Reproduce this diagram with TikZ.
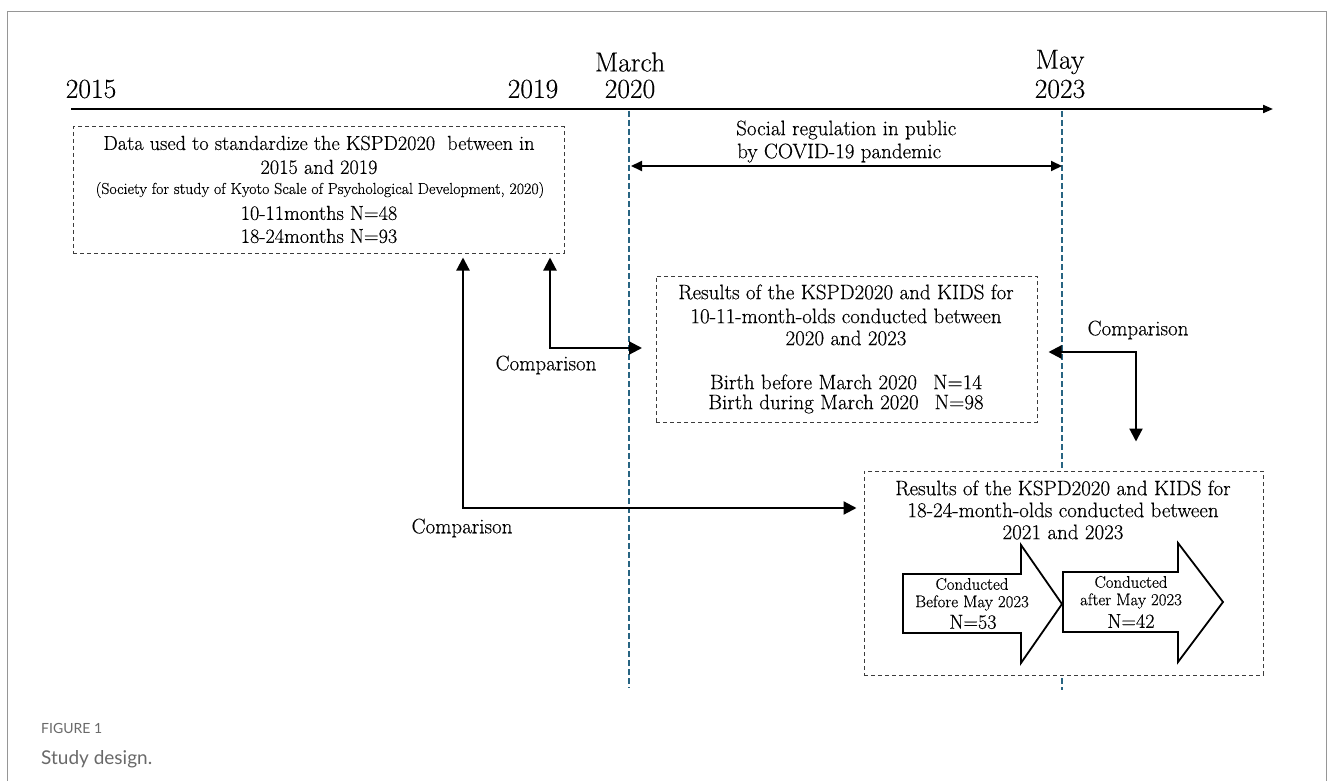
\documentclass[tikz,border=0pt]{standalone}
\usepackage{fontspec}
\setmainfont{Latin Modern Roman}[FakeBold=0.35]
\newfontfamily\capfont{Lato}
\usetikzlibrary{arrows.meta}
\definecolor{dashblue}{RGB}{40,100,130}
\definecolor{boxgray}{RGB}{60,60,60}
\definecolor{capgray}{RGB}{105,105,105}
\definecolor{framegray}{RGB}{150,150,150}
\newcommand\tlfont{\fontsize{27.5}{30}\selectfont}
\newcommand\bxfont{\fontsize{21}{24}\selectfont}
\newcommand\bxofont{\fontsize{20.3}{24}\selectfont}
\newcommand\smfont{\fontsize{15.9}{18}\selectfont}
\newcommand\arfont{\fontsize{16.8}{19}\selectfont}
\newcommand\nfont{\fontsize{20.2}{22}\selectfont}
\tikzset{
  txt/.style={inner sep=0pt, font=\bxfont},
  txto/.style={inner sep=0pt, font=\bxofont},
  tl/.style={inner sep=0pt, font=\tlfont},
  dbox/.style={draw=boxgray, line width=1pt, dash pattern=on 4pt off 3pt, inner sep=0pt},
  vline/.style={draw=dashblue, line width=1.6pt, dash pattern=on 6pt off 3pt},
  biconn/.style={line width=2.2pt, {Triangle[length=13pt,width=13pt]}-{Triangle[length=13pt,width=13pt]}},
  srconn/.style={line width=2pt, {Triangle[length=11pt,width=10pt]}-{Triangle[length=11pt,width=10pt]}},
  timeline/.style={line width=2pt, -{Triangle[length=10pt,width=8pt]}},
  blockarrow/.style={draw=black, line width=1.8pt, fill=white, line join=miter},
}
\begin{document}
\begin{tikzpicture}[x=1pt,y=-1pt]
\useasboundingbox (0,0) rectangle (1331,781);
% frame
\draw[framegray, line width=1pt] (7,781) -- (7,12) -- (1326,12) -- (1326,781);
% timeline
\coordinate (tl0) at (71,109);
\coordinate (tl1) at (1273,109);
\draw[timeline] (tl0) -- (tl1);
\node[tl] (y2015) at (91,89) {2015};
\node[tl] (y2019) at (533,89) {2019};
\node[tl] (march) at (630,62) {March};
\node[tl] (y2020) at (630,89) {2020};
\node[tl] (may) at (1060,62) {May};
\node[tl] (y2023) at (1060,89) {2023};
% vertical dashed lines
\coordinate (v1top) at (629,111);
\coordinate (v1bot) at (629,688);
\coordinate (v2top) at (1062,111);
\coordinate (v2bot) at (1062,690);
\draw[vline] (v1top) -- (v1bot);
\draw[vline] (v2top) -- (v2bot);
% box 1
\node[dbox, minimum width=491pt, minimum height=126pt] (box1) at (318.5,190) {};
\node[txto] (b1l1) at (319,143) {Data used to standardize the KSPD2020\hspace{6pt} between in};
\node[txto] (b1l2) at (319,167) {2015 and 2019};
\node[inner sep=0pt, font=\smfont] (b1l3) at (320,190) {(Society for study of Kyoto Scale of Psychological Development, 2020)};
\node[txto] (b1l4) at (319,213) {10-11months N=48};
\node[txto] (b1l5) at (319,236) {18-24months N=93};
% social regulation
\node[txt, anchor=west] (sr1) at (736,130) {Social regulation in public};
\node[txt, anchor=west] (sr2) at (737,153) {by COVID-19 pandemic};
\coordinate (sra) at (631,166);
\coordinate (srb) at (1062,166);
\draw[srconn] (sra) -- (srb);
% middle box
\node[dbox, minimum width=381pt, minimum height=146pt] (mid) at (846.5,349) {};
\node[txt] (m1) at (846,292) {Results of the KSPD2020 and KIDS for};
\node[txt] (m2) at (846,316) {10-11-month-olds conducted between};
\node[txt] (m3) at (846,338) {2020 and 2023};
\node[txt] (m4) at (846,382) {Birth before March 2020\hspace{16pt}N=14};
\node[txt] (m5) at (846,404) {Birth during March 2020\hspace{16pt}N=98};
% bottom box
\node[dbox, fill=white, minimum width=399pt, minimum height=204pt] (bot) at (1063.5,573) {};
\node[txt] (bt1) at (1063,488) {Results of the KSPD2020 and KIDS for};
\node[txt] (bt2) at (1063,510) {18-24-month-olds conducted between};
\node[txt] (bt3) at (1063,532) {2021 and 2023};
% block arrows
\draw[blockarrow] (903,574) -- (1021,574) -- (1021,545) -- (1062,604) -- (1021,663) -- (1021,633) -- (903,633) -- cycle;
\draw[blockarrow] (1063,572) -- (1178,572) -- (1178,543) -- (1223,602) -- (1178,662) -- (1178,632) -- (1063,632) -- cycle;
\node[inner sep=0pt, font=\arfont] (a1l1) at (972,584) {Conducted};
\node[inner sep=0pt, font=\arfont] (a1l2) at (972,603) {Before May 2023};
\node[inner sep=0pt, font=\nfont] (a1l3) at (973,622) {N=53};
\node[inner sep=0pt, font=\arfont] (a2l1) at (1131,582) {Conducted};
\node[inner sep=0pt, font=\arfont] (a2l2) at (1131,601) {after May 2023};
\node[inner sep=0pt, font=\nfont] (a2l3) at (1131,621) {N=42};
% comparison arrows
\coordinate (ca) at (550,348);
\coordinate (cae) at (642,348);
\draw[biconn, shorten <=4pt] (box1.south -| ca) |- (cae);
\node[txt] (cmpA) at (546,365) {Comparison};
\coordinate (cb) at (463,508);
\draw[biconn, shorten <=4pt, shorten >=7pt] (box1.south -| cb) |- (bot.west |- cb);
\node[txt] (cmpB) at (462,528) {Comparison};
\coordinate (cc) at (1136,352);
\draw[biconn, shorten <=11pt, shorten >=29pt] (mid.east |- cc) -| (bot.north -| cc);
\node[txt] (cmpC) at (1138,330) {Comparison};
% caption
\node[anchor=west, inner sep=0pt, font=\capfont\fontsize{14}{16}\selectfont, text=capgray] (figlab) at (41,728) {FIGURE 1};
\node[anchor=west, inner sep=0pt, font=\capfont\fontsize{19}{22}\selectfont, text=capgray] (figcap) at (41,759) {Study design.};
\end{tikzpicture}
\end{document}
